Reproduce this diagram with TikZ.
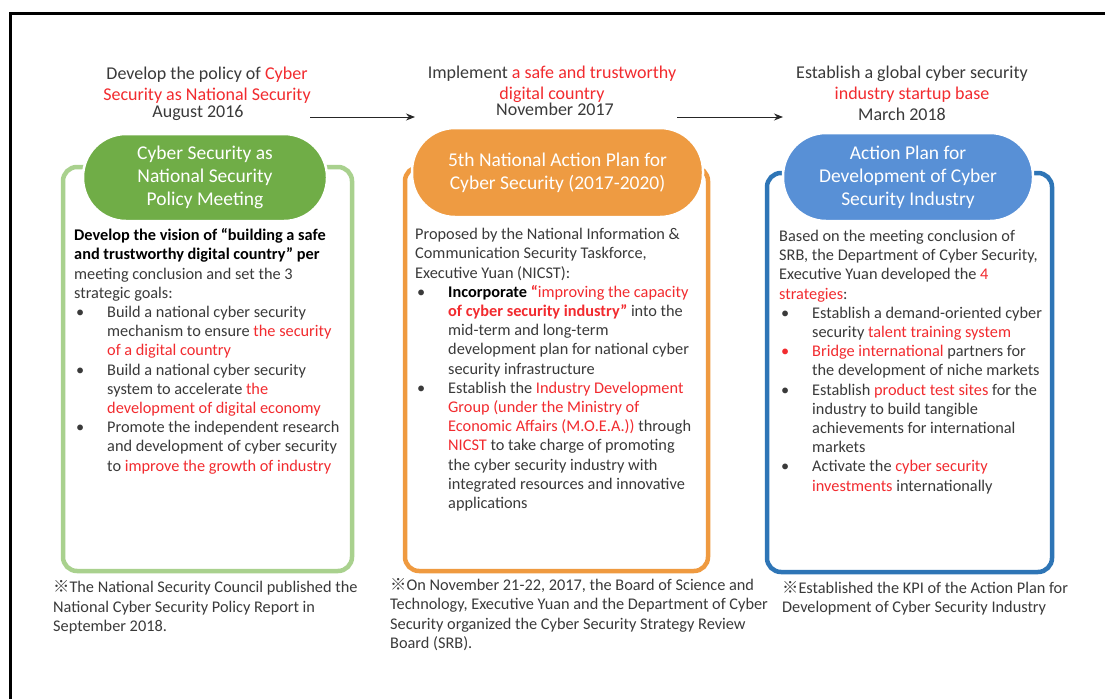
\documentclass[tikz,border=0pt]{standalone}
\usepackage{fontspec}
\setmainfont{Carlito}
\newfontfamily\markfont{Noto Sans CJK SC}
\usetikzlibrary{arrows.meta}

\definecolor{ink}{HTML}{3A3A3A}
\definecolor{hot}{HTML}{F22B2F}
\definecolor{gframe}{HTML}{A9D18E}
\definecolor{gfill}{HTML}{70AD47}
\definecolor{oframe}{HTML}{EF9A40}
\definecolor{ofill}{HTML}{EE9B42}
\definecolor{bframe}{HTML}{2E75B6}
\definecolor{bfill}{HTML}{5890D6}

% highlighted phrase, bullet and hanging indent
\newcommand{\rt}[1]{\textcolor{hot}{#1}}
\newcommand{\bul}{\makebox[33pt][l]{\hspace{2pt}\textbullet}}
\newcommand{\ind}{\hspace*{33pt}}
\newcommand{\bd}[1]{\textbf{#1}}
\newcommand{\refmark}{{\markfont ※}}

\begin{document}
\begin{tikzpicture}[x=1pt,y=-1pt,
  % multi-line nodes are placed by the baseline of their last line
  heading/.style={anchor=base,align=center,inner sep=0,text=ink,
    font=\fontsize{18}{21}\selectfont},
  datetext/.style={anchor=base,inner sep=0,text=ink,
    font=\fontsize{18}{21}\selectfont},
  frame/.style={rectangle,rounded corners=14pt,line width=4.5pt,inner sep=0},
  pill/.style={rectangle,rounded corners=43pt,draw=white,line width=2.5pt,
    inner sep=0,text=white,align=center,
    font=\fontsize{19.5}{23.2}\selectfont},
  body/.style={anchor=base west,align=left,inner sep=0,text=ink,
    font=\fontsize{16.3}{19.2}\selectfont},
  note/.style={anchor=base west,align=left,inner sep=0,text=ink,
    font=\fontsize{16.3}{19.5}\selectfont},
  flow/.style={-{Stealth[length=9pt,width=7pt]},line width=0.9pt,draw=black!85}
]
\useasboundingbox (0,0) rectangle (1105,699);
\fill[white] (0,0) rectangle (1105,699);

% outer frame
\draw[line width=3pt] (10,699) -- (10,13) -- (1105,13);

% headings
\node[heading] (h1) at (207,100) {Develop the policy of \rt{Cyber}\\\rt{Security as National Security}};
\node[datetext] (d1) at (198,117) {August 2016};
\node[heading] (h2) at (552,99) {Implement \rt{a safe and trustworthy}\\\rt{digital country}};
\node[datetext] (d2) at (555,115) {November 2017};
\node[heading] (h3) at (912,99) {Establish a global cyber security\\\rt{industry startup base}};
\node[datetext] (d3) at (902,120) {March 2018};

% timeline arrows
\coordinate (a1s) at (310,117);
\coordinate (a1e) at (415,117);
\coordinate (a2s) at (677,117);
\coordinate (a2e) at (783,117);
\draw[flow] (a1s) -- (a1e);
\draw[flow] (a2s) -- (a2e);

% frames
\node[frame,draw=gframe,minimum width=289pt,minimum height=404pt] (gbox) at (207.5,369) {};
\node[frame,draw=oframe,minimum width=303pt,minimum height=404pt] (obox) at (556.5,369) {};
\node[frame,draw=bframe,minimum width=285pt,minimum height=399pt] (bbox) at (909.5,372.5) {};

% title pills
\node[pill,fill=gfill,minimum width=244pt,minimum height=87pt] (gtitle) at (205,177.5)
  {Cyber Security as\\National Security\\Policy Meeting};
\node[pill,fill=ofill,minimum width=291pt,minimum height=89pt] (otitle) at (557.5,172.5)
  {5th National Action Plan for\\Cyber Security (2017-2020)};
\node[pill,fill=bfill,minimum width=250pt,minimum height=88pt] (btitle) at (908,177)
  {Action Plan for\\Development of Cyber\\Security Industry};

% body texts
\node[body] (gtext) at (74,471) {%
\textcolor{black}{\bd{Develop the vision of “building a safe}}\\
\textcolor{black}{\bd{and trustworthy digital country” per}}\\
meeting conclusion and set the 3\\
strategic goals:\\
\bul Build a national cyber security\\
\ind mechanism to ensure \rt{the security}\\
\ind \rt{of a digital country}\\
\bul Build a national cyber security\\
\ind system to accelerate \rt{the}\\
\ind \rt{development of digital economy}\\
\bul Promote the independent research\\
\ind and development of cyber security\\
\ind to \rt{improve the growth of industry}};

\node[body] (otext) at (415,508.5) {%
Proposed by the National Information \&\\
Communication Security Taskforce,\\
Executive Yuan (NICST):\\
\bul \textcolor{black}{\bd{Incorporate }}\rt{\bd{“}improving the capacity}\\
\ind \rt{\bd{of cyber security industry”}} into the\\
\ind mid-term and long-term\\
\ind development plan for national cyber\\
\ind security infrastructure\\
\bul Establish the \rt{Industry Development}\\
\ind \rt{Group (under the Ministry of}\\
\ind \rt{Economic Affairs (M.O.E.A.))} through\\
\ind \rt{NICST} to take charge of promoting\\
\ind the cyber security industry with\\
\ind integrated resources and innovative\\
\ind applications};

\node[body] (btext) at (779,491) {%
Based on the meeting conclusion of\\
SRB, the Department of Cyber Security,\\
Executive Yuan developed the \rt{4}\\
\rt{strategies}:\\
\bul Establish a demand-oriented cyber\\
\ind security \rt{talent training system}\\
\rt{\bul}\rt{Bridge international} partners for\\
\ind the development of niche markets\\
\bul Establish \rt{product test sites} for the\\
\ind industry to build tangible\\
\ind achievements for international\\
\ind markets\\
\bul Activate the \rt{cyber security}\\
\ind \rt{investments} internationally};

% notes under the frames
\node[note] (gnote) at (53,631.5) {%
\refmark The National Security Council published the\\
National Cyber Security Policy Report in\\
September 2018.};
\node[note] (onote) at (390,648.5) {%
\refmark On November 21-22, 2017, the Board of Science and\\
Technology, Executive Yuan and the Department of Cyber\\
Security organized the Cyber Security Strategy Review\\
Board (SRB).};
\node[note] (bnote) at (782,612.5) {%
\refmark Established the KPI of the Action Plan for\\
Development of Cyber Security Industry};
\end{tikzpicture}
\end{document}
